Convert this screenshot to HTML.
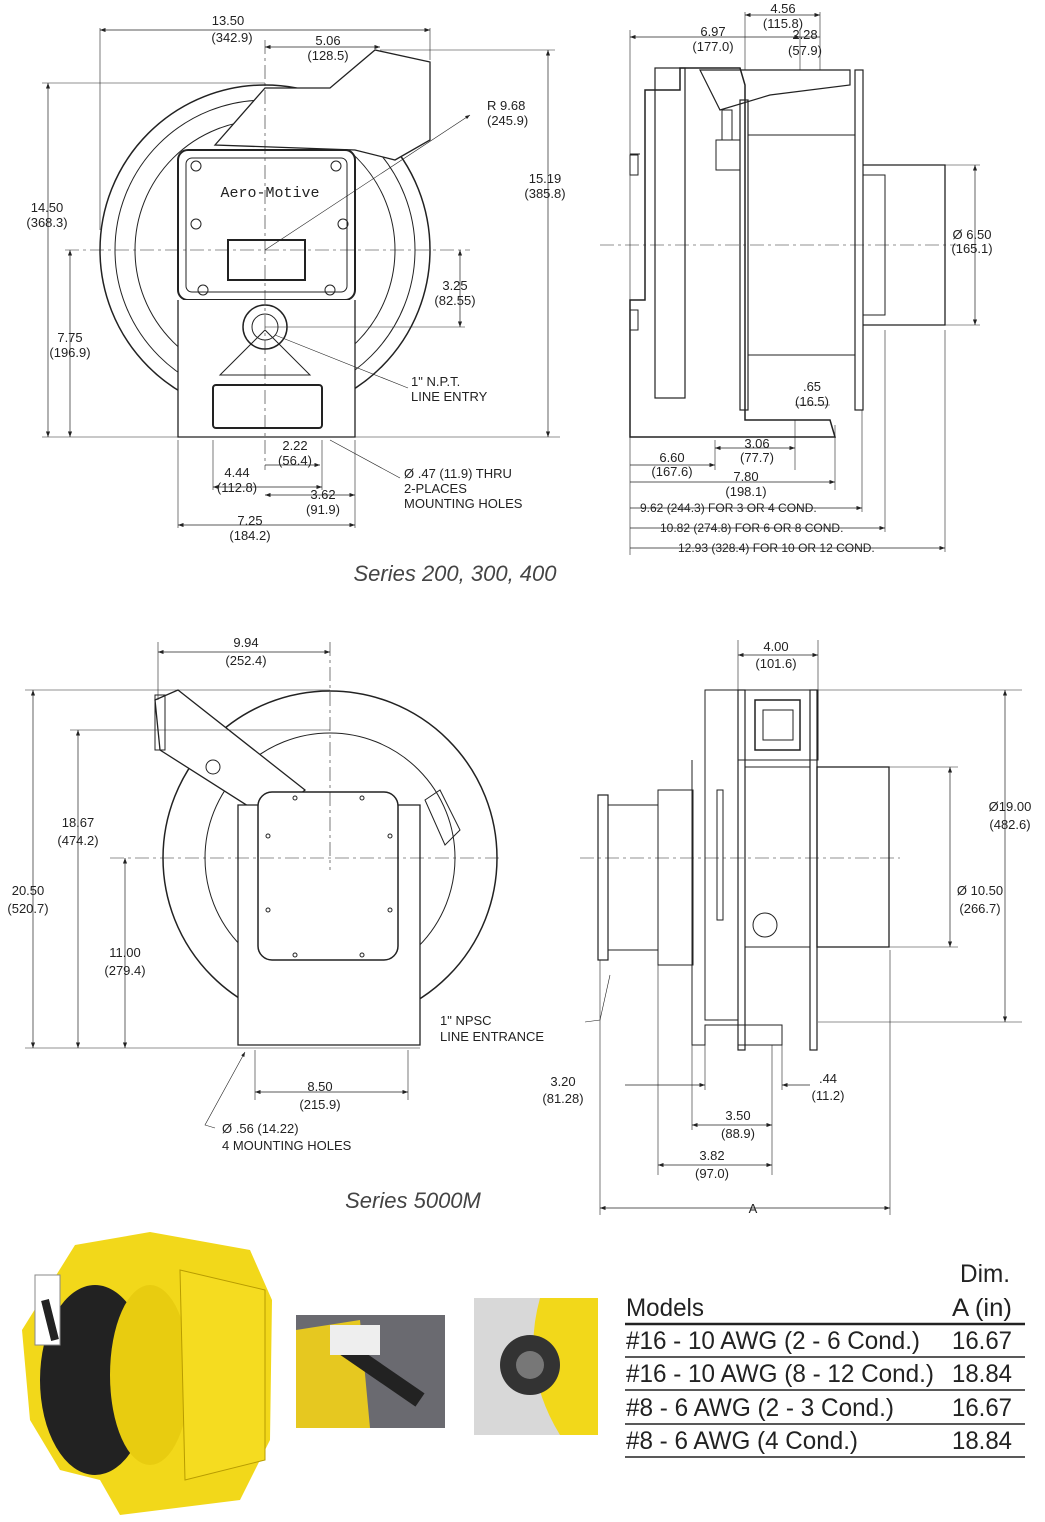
<!DOCTYPE html>
<html><head><meta charset="utf-8"><style>
html,body{margin:0;padding:0;background:#fff;}
svg{display:block;}
text{font-family:"Liberation Sans",sans-serif;fill:#222;}
.d{font-size:13px;text-anchor:middle;}
.dl{font-size:13px;}
.t{font-size:25px;font-family:"Liberation Sans",sans-serif;}
</style></head><body>
<svg width="1045" height="1522" viewBox="0 0 1045 1522" xmlns="http://www.w3.org/2000/svg">
<defs>
<marker id="a" markerWidth="8" markerHeight="6" refX="8" refY="3" orient="auto-start-reverse"><path d="M0,0 L8,3 L0,6z" fill="#222"/></marker>
</defs>
<g stroke="#222" fill="none" stroke-width="1">
<!-- ===== TOP LEFT ===== -->
<circle cx="265" cy="250" r="165" stroke-width="1.5"/>
<circle cx="265" cy="250" r="150"/>
<circle cx="265" cy="250" r="130"/>
<path d="M215,145 L265,88 L330,88 L375,50 L430,62 L430,140 L395,160 L355,150 Z" fill="#fff" stroke-width="1.3"/>
<rect x="178" y="150" width="177" height="150" rx="10" fill="#fff" stroke-width="2"/>
<rect x="186" y="158" width="161" height="134" rx="6"/>
<rect x="228" y="240" width="77" height="40" stroke-width="2"/>
<path d="M178,300 L178,437 L355,437 L355,300" fill="#fff" stroke-width="1.3"/>
<rect x="213" y="385" width="109" height="43" rx="3" stroke-width="2"/>
<circle cx="265" cy="327" r="22" stroke-width="1.5"/>
<circle cx="265" cy="327" r="13"/>
<path d="M220,375 L265,330 L310,375 Z"/>
<circle cx="196" cy="166" r="5"/><circle cx="336" cy="166" r="5"/><circle cx="196" cy="224" r="5"/><circle cx="343" cy="224" r="5"/><circle cx="203" cy="290" r="5"/><circle cx="330" cy="290" r="5"/>
<line x1="100" y1="28" x2="100" y2="230" stroke-width=".6"/><line x1="430" y1="28" x2="430" y2="60" stroke-width=".6"/>
<line x1="100" y1="30" x2="430" y2="30" marker-start="url(#a)" marker-end="url(#a)" stroke-width=".7"/>
<line x1="265" y1="47" x2="380" y2="47" marker-start="url(#a)" marker-end="url(#a)" stroke-width=".7"/>
<line x1="48" y1="83" x2="48" y2="437" marker-start="url(#a)" marker-end="url(#a)" stroke-width=".7"/>
<line x1="42" y1="83" x2="265" y2="83" stroke-width=".6"/>
<line x1="42" y1="437" x2="560" y2="437" stroke-width=".6"/>
<line x1="70" y1="250" x2="70" y2="437" marker-start="url(#a)" marker-end="url(#a)" stroke-width=".7"/>
<line x1="65" y1="250" x2="470" y2="250" stroke-width=".6" stroke-dasharray="14,4,3,4"/>
<line x1="265" y1="40" x2="265" y2="470" stroke-width=".6" stroke-dasharray="14,4,3,4"/>
<line x1="548" y1="50" x2="548" y2="437" marker-start="url(#a)" marker-end="url(#a)" stroke-width=".7"/>
<line x1="380" y1="50" x2="555" y2="50" stroke-width=".6"/>
<line x1="460" y1="250" x2="460" y2="327" marker-start="url(#a)" marker-end="url(#a)" stroke-width=".7"/>
<line x1="265" y1="327" x2="465" y2="327" stroke-width=".6"/>
<line x1="265" y1="250" x2="470" y2="115" stroke-width=".6" marker-end="url(#a)"/>
<line x1="275" y1="335" x2="408" y2="388" stroke-width=".6"/>
<line x1="265" y1="465" x2="320" y2="465" marker-end="url(#a)" stroke-width=".7"/>
<line x1="213" y1="440" x2="213" y2="490" stroke-width=".6"/><line x1="322" y1="440" x2="322" y2="490" stroke-width=".6"/>
<line x1="213" y1="487" x2="322" y2="487" marker-start="url(#a)" marker-end="url(#a)" stroke-width=".7"/>
<line x1="265" y1="495" x2="355" y2="495" marker-start="url(#a)" marker-end="url(#a)" stroke-width=".7"/>
<line x1="178" y1="440" x2="178" y2="528" stroke-width=".6"/><line x1="355" y1="440" x2="355" y2="528" stroke-width=".6"/>
<line x1="178" y1="525" x2="355" y2="525" marker-start="url(#a)" marker-end="url(#a)" stroke-width=".7"/>
<line x1="330" y1="440" x2="400" y2="478" stroke-width=".6"/>

<!-- ===== TOP RIGHT ===== -->
<path d="M680,68 L740,68 L745,85 L745,420 L830,420 L835,437 L630,437 L630,300 L645,300 L645,90 L680,90 Z" fill="#fff" stroke-width="1.5"/>
<rect x="655" y="68" width="30" height="330" stroke-width="1.2"/>
<path d="M700,70 L850,70 L850,85 L770,95 L720,110 Z" stroke-width="1.2"/>
<rect x="740" y="100" width="8" height="310" stroke-width="1.2"/>
<rect x="855" y="70" width="8" height="340" stroke-width="1.2"/>
<line x1="748" y1="135" x2="855" y2="135"/><line x1="748" y1="355" x2="855" y2="355"/>
<path d="M863,165 L945,165 L945,325 L863,325" stroke-width="1.3"/>
<path d="M863,175 L885,175 L885,315 L863,315"/>
<rect x="716" y="140" width="24" height="30"/><rect x="722" y="110" width="10" height="30"/>
<line x1="630" y1="154" x2="640" y2="154"/><rect x="630" y="155" width="8" height="20"/><rect x="630" y="310" width="8" height="20"/>
<line x1="600" y1="245" x2="960" y2="245" stroke-width=".6" stroke-dasharray="14,4,3,4"/>
<line x1="630" y1="30" x2="630" y2="555" stroke-width=".6"/>
<line x1="630" y1="37" x2="800" y2="37" marker-start="url(#a)" marker-end="url(#a)" stroke-width=".7"/>
<line x1="745" y1="12" x2="745" y2="70" stroke-width=".6"/><line x1="820" y1="12" x2="820" y2="70" stroke-width=".6"/><line x1="800" y1="30" x2="800" y2="70" stroke-width=".6"/>
<line x1="745" y1="15" x2="820" y2="15" marker-start="url(#a)" marker-end="url(#a)" stroke-width=".7"/>
<line x1="800" y1="37" x2="820" y2="37" stroke-width=".7"/>
<line x1="975" y1="165" x2="975" y2="325" marker-start="url(#a)" marker-end="url(#a)" stroke-width=".7"/>
<line x1="945" y1="165" x2="980" y2="165" stroke-width=".6"/><line x1="945" y1="325" x2="980" y2="325" stroke-width=".6"/>
<line x1="715" y1="440" x2="715" y2="470" stroke-width=".6"/><line x1="795" y1="420" x2="795" y2="470" stroke-width=".6"/>
<line x1="715" y1="448" x2="795" y2="448" marker-start="url(#a)" marker-end="url(#a)" stroke-width=".7"/>
<line x1="630" y1="465" x2="715" y2="465" marker-end="url(#a)" stroke-width=".7"/>
<line x1="630" y1="482" x2="835" y2="482" marker-end="url(#a)" stroke-width=".7"/>
<line x1="835" y1="425" x2="835" y2="490" stroke-width=".6"/>
<line x1="795" y1="405" x2="830" y2="405" stroke-width=".6"/>
<line x1="630" y1="508" x2="862" y2="508" marker-end="url(#a)" stroke-width=".7"/>
<line x1="630" y1="528" x2="885" y2="528" marker-end="url(#a)" stroke-width=".7"/>
<line x1="630" y1="548" x2="945" y2="548" marker-end="url(#a)" stroke-width=".7"/>
<line x1="862" y1="410" x2="862" y2="512" stroke-width=".6"/><line x1="885" y1="330" x2="885" y2="532" stroke-width=".6"/><line x1="945" y1="330" x2="945" y2="552" stroke-width=".6"/>

<!-- ===== BOTTOM LEFT ===== -->
<circle cx="330" cy="858" r="167" stroke-width="1.5"/>
<circle cx="330" cy="858" r="125"/>
<path d="M155,700 L178,690 L305,790 L270,820 L160,750 Z" fill="#fff" stroke-width="1.3"/>
<rect x="155" y="695" width="10" height="55"/>
<circle cx="213" cy="767" r="7"/>
<path d="M238,805 L420,805 L420,1045 L238,1045 Z" fill="#fff" stroke-width="1.3"/>
<rect x="258" y="792" width="140" height="168" rx="14" fill="#fff" stroke-width="1.5"/>
<path d="M425,800 L440,790 L460,830 L445,845 Z"/>
<circle cx="295" cy="798" r="2"/><circle cx="362" cy="798" r="2"/><circle cx="268" cy="836" r="2"/><circle cx="390" cy="836" r="2"/><circle cx="268" cy="910" r="2"/><circle cx="390" cy="910" r="2"/><circle cx="295" cy="955" r="2"/><circle cx="362" cy="955" r="2"/>
<line x1="110" y1="858" x2="500" y2="858" stroke-width=".6" stroke-dasharray="14,4,3,4"/>
<line x1="158" y1="642" x2="158" y2="700" stroke-width=".6"/><line x1="330" y1="642" x2="330" y2="870" stroke-width=".6" stroke-dasharray="14,4,3,4"/>
<line x1="158" y1="652" x2="330" y2="652" marker-start="url(#a)" marker-end="url(#a)" stroke-width=".7"/>
<line x1="25" y1="690" x2="330" y2="690" stroke-width=".6"/>
<line x1="25" y1="1048" x2="420" y2="1048" stroke-width=".6"/>
<line x1="33" y1="690" x2="33" y2="1048" marker-start="url(#a)" marker-end="url(#a)" stroke-width=".7"/>
<line x1="78" y1="730" x2="78" y2="1048" marker-start="url(#a)" marker-end="url(#a)" stroke-width=".7"/>
<line x1="70" y1="730" x2="330" y2="730" stroke-width=".6"/>
<line x1="125" y1="858" x2="125" y2="1048" marker-start="url(#a)" marker-end="url(#a)" stroke-width=".7"/>
<line x1="255" y1="1050" x2="255" y2="1100" stroke-width=".6"/><line x1="408" y1="1050" x2="408" y2="1100" stroke-width=".6"/>
<line x1="255" y1="1092" x2="408" y2="1092" marker-start="url(#a)" marker-end="url(#a)" stroke-width=".7"/>
<polyline points="215,1128 205,1125 245,1052" stroke-width=".6" marker-end="url(#a)"/>

<!-- ===== BOTTOM RIGHT ===== -->
<rect x="738" y="690" width="80" height="70" fill="#fff"/>
<rect x="738" y="690" width="7" height="360" stroke-width="1.2"/>
<rect x="810" y="690" width="7" height="360" stroke-width="1.2"/>
<rect x="817" y="767" width="72" height="180" stroke-width="1.3"/>
<rect x="745" y="767" width="65" height="180"/>
<rect x="755" y="700" width="45" height="50" stroke-width="1.5"/><rect x="763" y="710" width="30" height="30"/>
<path d="M692,760 L692,1045 L705,1045 L705,1025 L782,1025 L782,1045 L738,1045"/>
<rect x="705" y="690" width="33" height="330"/>
<rect x="717" y="790" width="6" height="130"/>
<rect x="598" y="795" width="10" height="165" stroke-width="1.2"/>
<path d="M608,805 L658,805 L658,950 L608,950"/>
<rect x="658" y="790" width="35" height="175"/>
<circle cx="765" cy="925" r="12"/>
<line x1="580" y1="858" x2="900" y2="858" stroke-width=".6" stroke-dasharray="14,4,3,4"/>
<line x1="738" y1="640" x2="738" y2="690" stroke-width=".6"/><line x1="818" y1="640" x2="818" y2="690" stroke-width=".6"/>
<line x1="738" y1="655" x2="818" y2="655" marker-start="url(#a)" marker-end="url(#a)" stroke-width=".7"/>
<line x1="818" y1="690" x2="1022" y2="690" stroke-width=".6"/><line x1="818" y1="1022" x2="1022" y2="1022" stroke-width=".6"/>
<line x1="1005" y1="690" x2="1005" y2="1022" marker-start="url(#a)" marker-end="url(#a)" stroke-width=".7"/>
<line x1="889" y1="767" x2="958" y2="767" stroke-width=".6"/><line x1="889" y1="947" x2="958" y2="947" stroke-width=".6"/>
<line x1="950" y1="767" x2="950" y2="947" marker-start="url(#a)" marker-end="url(#a)" stroke-width=".7"/>
<line x1="600" y1="960" x2="600" y2="1215" stroke-width=".6"/><line x1="890" y1="950" x2="890" y2="1215" stroke-width=".6"/>
<line x1="600" y1="1208" x2="890" y2="1208" marker-start="url(#a)" marker-end="url(#a)" stroke-width=".7"/>
<line x1="658" y1="960" x2="658" y2="1175" stroke-width=".6"/><line x1="692" y1="1045" x2="692" y2="1130" stroke-width=".6"/><line x1="705" y1="1045" x2="705" y2="1090" stroke-width=".6"/><line x1="772" y1="1045" x2="772" y2="1175" stroke-width=".6"/><line x1="782" y1="1045" x2="782" y2="1090" stroke-width=".6"/>
<line x1="625" y1="1085" x2="705" y2="1085" marker-end="url(#a)" stroke-width=".7"/>
<line x1="810" y1="1085" x2="782" y2="1085" marker-end="url(#a)" stroke-width=".7"/>
<line x1="692" y1="1125" x2="772" y2="1125" marker-start="url(#a)" marker-end="url(#a)" stroke-width=".7"/>
<line x1="658" y1="1165" x2="772" y2="1165" marker-start="url(#a)" marker-end="url(#a)" stroke-width=".7"/>
<polyline points="585,1022 600,1020 610,975" stroke-width=".6"/>
</g>

<g>
<text class="d" x="228" y="25">13.50</text><text class="d" x="232" y="42">(342.9)</text>
<text class="d" x="328" y="45">5.06</text><text class="d" x="328" y="60">(128.5)</text>
<text x="270" y="197" style="font-family:'Liberation Mono',monospace;font-size:15px;text-anchor:middle">Aero-Motive</text>
<text class="d" x="47" y="212">14.50</text><text class="d" x="47" y="227">(368.3)</text>
<text class="d" x="70" y="342">7.75</text><text class="d" x="70" y="357">(196.9)</text>
<text class="d" x="545" y="183">15.19</text><text class="d" x="545" y="198">(385.8)</text>
<text class="dl" x="487" y="110">R 9.68</text><text class="dl" x="487" y="125">(245.9)</text>
<text class="d" x="455" y="290">3.25</text><text class="d" x="455" y="305">(82.55)</text>
<text class="dl" x="411" y="386">1" N.P.T.</text><text class="dl" x="411" y="401">LINE ENTRY</text>
<text class="d" x="295" y="450">2.22</text><text class="d" x="295" y="465">(56.4)</text>
<text class="d" x="237" y="477">4.44</text><text class="d" x="237" y="492">(112.8)</text>
<text class="d" x="323" y="499">3.62</text><text class="d" x="323" y="514">(91.9)</text>
<text class="d" x="250" y="525">7.25</text><text class="d" x="250" y="540">(184.2)</text>
<text class="dl" x="404" y="478">Ø .47 (11.9) THRU</text><text class="dl" x="404" y="493">2-PLACES</text><text class="dl" x="404" y="508">MOUNTING HOLES</text>
<text x="455" y="581" style="font-size:22px;font-style:italic;text-anchor:middle;fill:#444">Series 200, 300, 400</text>

<text class="d" x="783" y="13">4.56</text><text class="d" x="783" y="28">(115.8)</text>
<text class="d" x="713" y="36">6.97</text><text class="d" x="713" y="51">(177.0)</text>
<text class="d" x="805" y="39">2.28</text><text class="d" x="805" y="55">(57.9)</text>
<text class="d" x="972" y="239">Ø 6.50</text><text class="d" x="972" y="253">(165.1)</text>
<text class="d" x="812" y="391">.65</text><text class="d" x="812" y="406">(16.5)</text>
<text class="d" x="757" y="448">3.06</text><text class="d" x="757" y="462">(77.7)</text>
<text class="d" x="672" y="462">6.60</text><text class="d" x="672" y="476">(167.6)</text>
<text class="d" x="746" y="481">7.80</text><text class="d" x="746" y="496">(198.1)</text>
<text class="dl" x="640" y="512" style="font-size:12px">9.62 (244.3) FOR 3 OR 4 COND.</text>
<text class="dl" x="660" y="532" style="font-size:12px">10.82 (274.8) FOR 6 OR 8 COND.</text>
<text class="dl" x="678" y="552" style="font-size:12px">12.93 (328.4) FOR 10 OR 12 COND.</text>

<text class="d" x="246" y="647">9.94</text><text class="d" x="246" y="665">(252.4)</text>
<text class="d" x="78" y="827">18.67</text><text class="d" x="78" y="845">(474.2)</text>
<text class="d" x="28" y="895">20.50</text><text class="d" x="28" y="913">(520.7)</text>
<text class="d" x="125" y="957">11.00</text><text class="d" x="125" y="975">(279.4)</text>
<text class="d" x="320" y="1091">8.50</text><text class="d" x="320" y="1109">(215.9)</text>
<text class="dl" x="222" y="1133">Ø .56 (14.22)</text><text class="dl" x="222" y="1150">4 MOUNTING HOLES</text>
<text class="dl" x="440" y="1025">1" NPSC</text><text class="dl" x="440" y="1041">LINE ENTRANCE</text>
<text x="413" y="1208" style="font-size:22px;font-style:italic;text-anchor:middle;fill:#444">Series 5000M</text>

<text class="d" x="776" y="651">4.00</text><text class="d" x="776" y="668">(101.6)</text>
<text class="d" x="1010" y="811">Ø19.00</text><text class="d" x="1010" y="829">(482.6)</text>
<text class="d" x="980" y="895">Ø 10.50</text><text class="d" x="980" y="913">(266.7)</text>
<text class="d" x="563" y="1086">3.20</text><text class="d" x="563" y="1103">(81.28)</text>
<text class="d" x="828" y="1083">.44</text><text class="d" x="828" y="1100">(11.2)</text>
<text class="d" x="738" y="1120">3.50</text><text class="d" x="738" y="1138">(88.9)</text>
<text class="d" x="712" y="1160">3.82</text><text class="d" x="712" y="1178">(97.0)</text>
<text class="d" x="753" y="1213">A</text>
</g>

<!-- photos -->
<rect x="20" y="1230" width="255" height="290" fill="#fff"/>
<path d="M75,1245 L150,1232 L250,1250 L272,1300 L270,1440 L240,1500 L120,1515 L100,1480 L60,1470 L30,1420 L22,1330 Z" fill="#f2d81a"/>
<ellipse cx="95" cy="1380" rx="55" ry="95" fill="#222"/>
<ellipse cx="150" cy="1375" rx="40" ry="90" fill="#e8cc10"/>
<path d="M180,1270 L265,1290 L265,1460 L185,1480 Z" fill="#f5dc20" stroke="#b89c00"/>
<rect x="35" y="1275" width="25" height="70" fill="#fff" stroke="#888"/>
<path d="M45,1300 L55,1340" stroke="#222" stroke-width="8"/>
<rect x="296" y="1315" width="149" height="113" fill="#6a6a70"/>
<path d="M296,1330 L360,1320 L370,1428 L296,1428 Z" fill="#e6c820"/>
<path d="M340,1345 L420,1400" stroke="#222" stroke-width="16"/>
<rect x="330" y="1325" width="50" height="30" fill="#eee"/>
<rect x="474" y="1298" width="124" height="137" fill="#d8d8d8"/>
<path d="M540,1298 L598,1298 L598,1435 L560,1435 Q520,1370 540,1298 Z" fill="#f2d81a"/>
<circle cx="530" cy="1365" r="30" fill="#333"/>
<circle cx="530" cy="1365" r="14" fill="#777"/>

<!-- table -->
<g>
<text class="t" x="960" y="1282" textLength="50" lengthAdjust="spacingAndGlyphs">Dim.</text>
<text class="t" x="626" y="1316" textLength="78" lengthAdjust="spacingAndGlyphs">Models</text>
<text class="t" x="952" y="1316" textLength="60" lengthAdjust="spacingAndGlyphs">A (in)</text>
<line x1="625" y1="1324" x2="1025" y2="1324" stroke="#222" stroke-width="2.5"/>
<text class="t" x="626" y="1349" textLength="294" lengthAdjust="spacingAndGlyphs">#16 - 10 AWG (2 - 6 Cond.)</text><text class="t" x="952" y="1349" textLength="60" lengthAdjust="spacingAndGlyphs">16.67</text>
<line x1="625" y1="1357" x2="1025" y2="1357" stroke="#222" stroke-width="1.5"/>
<text class="t" x="626" y="1382" textLength="308" lengthAdjust="spacingAndGlyphs">#16 - 10 AWG (8 - 12 Cond.)</text><text class="t" x="952" y="1382" textLength="60" lengthAdjust="spacingAndGlyphs">18.84</text>
<line x1="625" y1="1390" x2="1025" y2="1390" stroke="#222" stroke-width="1.5"/>
<text class="t" x="626" y="1416" textLength="268" lengthAdjust="spacingAndGlyphs">#8 - 6 AWG (2 - 3 Cond.)</text><text class="t" x="952" y="1416" textLength="60" lengthAdjust="spacingAndGlyphs">16.67</text>
<line x1="625" y1="1424" x2="1025" y2="1424" stroke="#222" stroke-width="1.5"/>
<text class="t" x="626" y="1449" textLength="232" lengthAdjust="spacingAndGlyphs">#8 - 6 AWG (4 Cond.)</text><text class="t" x="952" y="1449" textLength="60" lengthAdjust="spacingAndGlyphs">18.84</text>
<line x1="625" y1="1457" x2="1025" y2="1457" stroke="#222" stroke-width="1.5"/>
</g>
</svg>
</body></html>
